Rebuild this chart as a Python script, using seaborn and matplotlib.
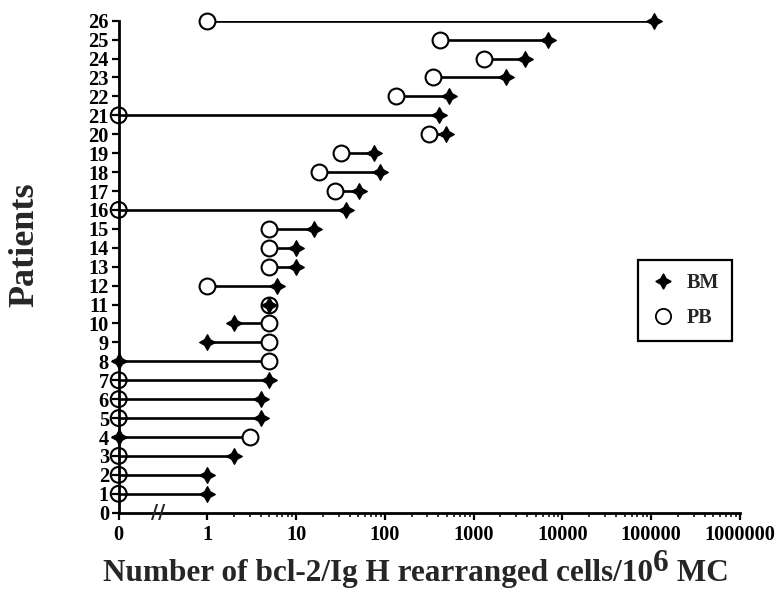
import numpy as np
import pandas as pd
import matplotlib
matplotlib.use("Agg")
import matplotlib.pyplot as plt
import seaborn as sns
from matplotlib.lines import Line2D

# ---------------- data ----------------
patients = list(range(1, 27))
bm_values = [1, 1, 2, 0, 4, 4, 5, 0, 1, 2, 5, 6, 10, 10, 16, 36, 51, 89, 76,
             492, 403, 522, 2300, 3740, 6840, 107000]
pb_values = [0, 0, 0, 3, 0, 0, 0, 5, 5, 5, 5, 1, 5, 5, 5, 0, 27, 18, 32,
             316, 0, 134, 345, 1320, 420, 1]
xtick_values = [0.1, 1, 10, 100, 1000, 10000, 100000, 1000000]
xtick_labels = ["0", "1", "10", "100", "1000", "10000", "100000", "1000000"]
ZERO_POS = 0.1  # where a value of 0 is drawn on the broken log axis

# ---------------- style ----------------
sns.set_theme(style="white")
plt.rcParams["font.family"] = ["Liberation Serif", "DejaVu Serif"]
plt.rcParams["font.weight"] = "bold"

df = pd.DataFrame({"patient": patients, "BM": bm_values, "PB": pb_values})
long = df.melt(id_vars="patient", value_vars=["BM", "PB"],
               var_name="source", value_name="value")
long["xpos"] = long["value"].where(long["value"] > 0, ZERO_POS)

fig = plt.figure(figsize=(7.76, 5.91), dpi=100)
ax = fig.add_axes([118.7 / 776, 1 - 512.7 / 591, (740 - 118.7) / 776, (512.7 - 20.7) / 591])
ax.set_xscale("log")
ax.set_xlim(0.1, 1e6)
ax.set_ylim(0, 26)

# connecting lines
sns.lineplot(data=long, x="xpos", y="patient", units="patient", estimator=None,
             sort=False, color="black", lw=1.9, ax=ax, legend=False, zorder=1)

pb = long[long["source"] == "PB"]
bm = long[long["source"] == "BM"]
pb_pos = pb[pb["value"] > 0]
pb_zero = pb[pb["value"] == 0]

sns.scatterplot(data=pb_pos, x="xpos", y="patient", marker="o", s=130,
                facecolor="white", edgecolor="black", linewidth=1.5,
                ax=ax, legend=False, zorder=3, clip_on=False)
sns.scatterplot(data=pb_zero, x="xpos", y="patient", marker="o", s=130,
                facecolor="none", edgecolor="black", linewidth=1.5,
                ax=ax, legend=False, zorder=3, clip_on=False)
sns.scatterplot(data=bm, x="xpos", y="patient", marker=(4, 1, 0), s=125,
                color="black", edgecolor="black", linewidth=1.0,
                ax=ax, legend=False, zorder=4, clip_on=False)

# axes styling
for side in ["top", "right"]:
    ax.spines[side].set_visible(False)
for side in ["left", "bottom"]:
    ax.spines[side].set_linewidth(2.0)
    ax.spines[side].set_color("black")

ax.set_xticks(xtick_values)
ax.set_xticklabels(xtick_labels)
minor = [k * 10 ** d for d in range(0, 6) for k in range(2, 10)]
ax.set_xticks(minor, minor=True)
ax.set_yticks(patients + [0])
ax.set_yticklabels([str(p) for p in patients] + ["0"])
ax.tick_params(axis="both", which="major", direction="out", length=5, width=1.6,
               color="black", labelcolor="black", labelsize=14.7, pad=2,
               bottom=True, left=True)
ax.tick_params(axis="x", which="minor", direction="out", length=3, width=1.1,
               color="black", bottom=True)
ax.tick_params(axis="x", which="major", pad=4)
for lab in ax.get_xticklabels() + ax.get_yticklabels():
    lab.set_fontweight("bold")
ax.set_xlabel("")
ax.set_ylabel("")
ax.grid(False)

# axis-break mark
ax.text(0.276, 0, "//", ha="center", va="center", fontsize=14, fontweight="bold",
        family=["DejaVu Sans"], transform=ax.transData, clip_on=False, zorder=5)

# legend
handles = [Line2D([], [], linestyle="none", marker=(4, 1, 0), markersize=11,
                  color="black"),
           Line2D([], [], linestyle="none", marker="o", markersize=11,
                  markerfacecolor="white", markeredgecolor="black",
                  markeredgewidth=1.3)]
leg = ax.legend(handles, ["BM", "PB"], loc="center",
                bbox_to_anchor=(0.826, 0.357, 0.171, 0.15), frameon=True,
                fancybox=False, edgecolor="black", framealpha=1,
                prop={"weight": "bold", "size": 14.5, "family": "Liberation Serif"},
                handlelength=1.2, handletextpad=0.6, labelspacing=0.75,
                borderpad=0.65, borderaxespad=0)
leg.get_frame().set_linewidth(1.6)

# y label
fig.text(25 / 776, 1 - 245 / 591, "Patients", rotation=90, fontsize=26,
         fontweight="bold", ha="center", va="center")

# x label with full-size raised superscript
fs = 22.5
base_y = 1 - 581 / 591
renderer = fig.canvas.get_renderer()
t1 = fig.text(0, base_y, "Number of bcl-2/Ig H rearranged cells/10", fontsize=fs,
              fontweight="bold", ha="left", va="baseline")
t2 = fig.text(0, base_y + 10 / 591, "6", fontsize=fs, fontweight="bold",
              ha="left", va="baseline")
t3 = fig.text(0, base_y, " MC", fontsize=fs, fontweight="bold", ha="left",
              va="baseline")
w1 = t1.get_window_extent(renderer).width
w2 = t2.get_window_extent(renderer).width
w3 = t3.get_window_extent(renderer).width
total = w1 + w2 + w3
x0 = 416 - total / 2
t1.set_x(x0 / 776)
t2.set_x((x0 + w1) / 776)
t3.set_x((x0 + w1 + w2) / 776)

fig.savefig("out.png", dpi=100)
